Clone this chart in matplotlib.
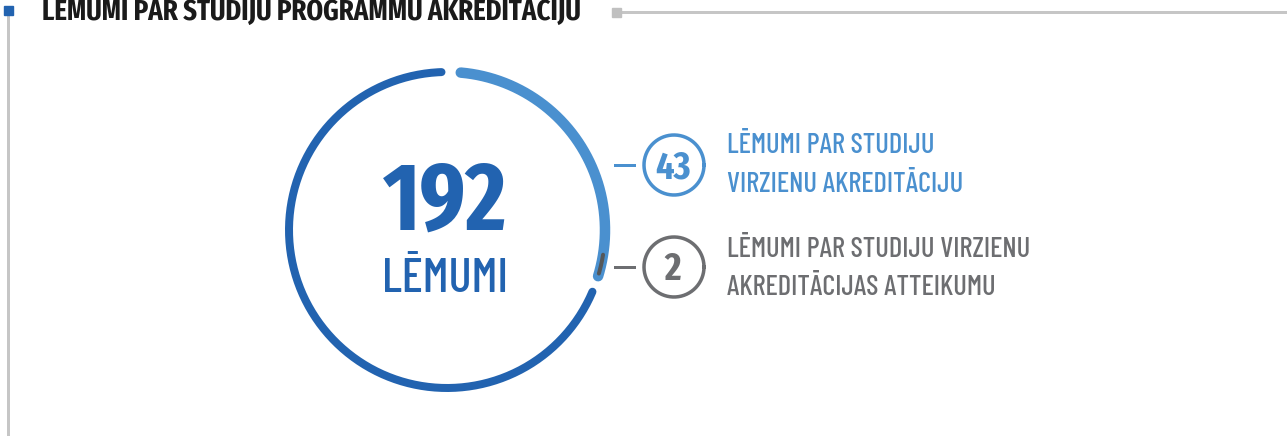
"""Infografika: lēmumi par studiju programmu akreditāciju (aplis ar segmentiem)."""

import numpy as np
import matplotlib
matplotlib.use("Agg")
import matplotlib.pyplot as plt
from matplotlib import font_manager


# dati
TITLE = "LĒMUMI PAR STUDIJU PROGRAMMU AKREDITĀCIJU"
TOTAL = 192
TOTAL_LABEL = "LĒMUMI"
SEG_VALUES = [43, 2]
SEG_LABELS = [
    ["LĒMUMI PAR STUDIJU", "VIRZIENU AKREDITĀCIJU"],
    ["LĒMUMI PAR STUDIJU VIRZIENU", "AKREDITĀCIJAS ATTEIKUMU"],
]

# stils / izkārtojums (pikseļos)
DARK = "#2263b0"
LIGHT = "#4a90cf"
GREY = "#6d6e71"
RULE = "#c6c6c6"
PX = 0.72  # punkti uz pikseli pie dpi=100

CX, CY, R = 447, 230, 158
# loku leņķi grādos (matemātiskais virziens, y uz augšu)
ARC_DARK = (-23, -268)
ARC_LIGHT = (85, -17)
ARC_GREY = (-9, -16)


def pick_family(candidates):
    names = {f.name for f in font_manager.fontManager.ttflist}
    for name in candidates:
        if name in names:
            return name
    return "DejaVu Sans"


FONT_BOLD = pick_family(["Fira Sans Extra Condensed", "Fira Sans Condensed",
                         "Roboto Condensed", "Liberation Sans Narrow", "DejaVu Sans"])
FONT_REG = pick_family(["Barlow Condensed", "Fira Sans Extra Condensed",
                        "Roboto Condensed", "Liberation Sans Narrow", "DejaVu Sans"])


def arc(ax, a0, a1, color, width_px, zorder=2):
    t = np.radians(np.linspace(a0, a1, 200))
    ax.plot(CX + R * np.cos(t), CY - R * np.sin(t), color=color,
            linewidth=width_px * PX, solid_capstyle="round", zorder=zorder)


def fit_width(fig, txt, width_px):
    """Mainīt fonta izmēru, lai teksts aizņemtu vajadzīgo platumu."""
    r = fig.canvas.get_renderer()
    w = txt.get_window_extent(r).width
    txt.set_fontsize(txt.get_fontsize() * width_px / w)


def main():
    fig = plt.figure(figsize=(12.87, 4.36), dpi=100)
    ax = fig.add_axes([0, 0, 1, 1])
    ax.set_xlim(0, 1287)
    ax.set_ylim(436, 0)
    ax.set_axis_off()

    # virsraksta līnijas
    ax.plot([7.5, 7.5], [14, 436], color=RULE, linewidth=3 * PX, zorder=1)
    ax.plot([7.5], [10], marker="s", markersize=9 * PX, color=DARK, zorder=2)
    ax.plot([618, 1287], [12.5, 12.5], color=RULE, linewidth=3 * PX, zorder=1)
    ax.plot([615.5], [12.5], marker="s", markersize=9 * PX, color="#c0c0c0", zorder=2)

    title = ax.text(42, 20, TITLE, ha="left", va="baseline", fontsize=22,
                    fontweight="bold", color="#1a1a1a", family=FONT_BOLD)
    fit_width(fig, title, 539)

    # aplis
    arc(ax, *ARC_DARK, DARK, 8)
    arc(ax, *ARC_LIGHT, LIGHT, 10.5)
    arc(ax, *ARC_GREY, "#555759", 4, zorder=3)

    big = ax.text(CX - 2, 230, f"{TOTAL}", ha="center", va="baseline",
                  fontsize=71, fontweight="bold", color=DARK, family=FONT_BOLD)
    fit_width(fig, big, 124)
    ax.text(CX - 2, 292, TOTAL_LABEL, ha="center", va="baseline",
            fontsize=35, fontweight="medium", color=DARK, family=FONT_REG)

    # segmentu apraksti
    colors = [LIGHT, GREY]
    centers_y = [165, 267]
    num_base = [178, 280]
    label_base = [[153, 192], [257, 295]]
    for val, lines, col, cy, nb, lb in zip(SEG_VALUES, SEG_LABELS, colors,
                                           centers_y, num_base, label_base):
        ax.plot([615, 634], [cy, cy], color=col, linewidth=3 * PX, zorder=2)
        t = np.linspace(0, 2 * np.pi, 200)
        ax.plot(674 + 30 * np.cos(t), cy + 30 * np.sin(t), color=col,
                linewidth=3.5 * PX, zorder=2)
        ax.text(673, nb, f"{val}", ha="center", va="baseline", fontsize=28,
                fontweight="bold", color=col, family=FONT_BOLD)
        for line, y in zip(lines, lb):
            ax.text(727, y, line, ha="left", va="baseline", fontsize=20.5,
                    fontweight="medium", color=col, family=FONT_REG)

    fig.savefig("out.png", dpi=100, facecolor="white")
    plt.close(fig)


if __name__ == "__main__":
    main()
